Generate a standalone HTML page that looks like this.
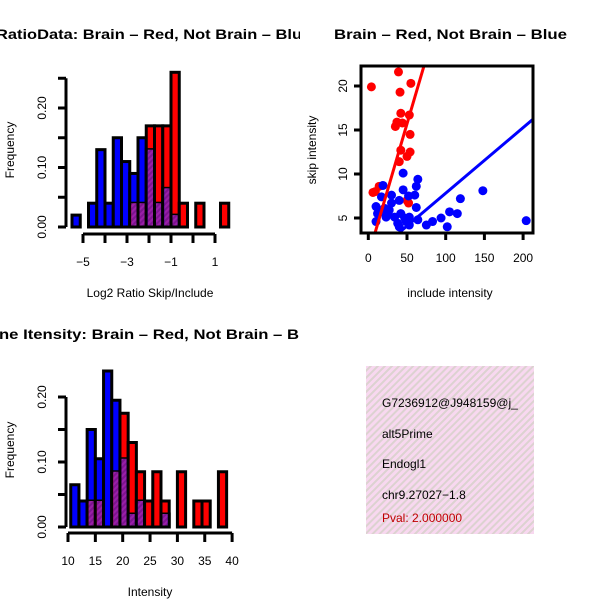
<!DOCTYPE html>
<html><head><meta charset="utf-8"><style>
body{margin:0;background:#fff}
svg{display:block;font-family:"Liberation Sans",Arial,sans-serif}
</style></head><body>
<svg id="c" width="600" height="600" xmlns="http://www.w3.org/2000/svg">
<defs>
<pattern id="ph" width="4" height="4" patternUnits="userSpaceOnUse" patternTransform="rotate(45)"><rect width="4" height="4" fill="#9a1fa8"/><rect width="2" height="4" fill="#7d1490"/></pattern>
<pattern id="bh" width="5" height="5" patternUnits="userSpaceOnUse" patternTransform="rotate(45)"><rect width="5" height="5" fill="#f8d8f0"/><rect width="2" height="5" fill="#dcd2d0"/></pattern>
<clipPath id="lc"><rect x="0" y="0" width="300" height="600"/></clipPath>
<clipPath id="sc"><rect x="361" y="66" width="172" height="167"/></clipPath>
</defs>
<g id="p1"></g>
<g id="p2"></g>
<g id="p3"></g>
<g>
<rect x="366" y="366" width="168" height="168" fill="url(#bh)"/>
<text x="382" y="407" font-size="12">G7236912@J948159@j_</text>
<text x="382" y="438" font-size="12">alt5Prime</text>
<text x="382" y="468" font-size="12">Endogl1</text>
<text x="382" y="499" font-size="12">chr9.27027−1.8</text>
<text x="382" y="522" font-size="12" fill="#c00000">Pval: 2.000000</text>
</g>
</svg>
<script>
// Panel 1 data
const ratioBinStarts=[-5.5,-5.125,-4.75,-4.375,-4,-3.625,-3.25,-2.875,-2.5,-2.125,-1.75,-1.375,-1,-0.625,-0.25,0.125,0.5,0.875,1.25];
const ratioBlue=[0.02,0,0.04,0.13,0.04,0.15,0.11,0.09,0.15,0.13,0.04,0.065,0.02,0,0,0,0,0,0];
const ratioRed=[0,0,0,0,0,0,0,0.04,0.04,0.17,0.17,0.17,0.26,0.04,0,0.04,0,0,0.04];
const ratioXTicks=[-5,-4,-3,-2,-1,0,1];
const ratioXLabels=[-5,-3,-1,1];
// Panel 3 data
const intBinStarts=[10.5,12,13.5,15,16.5,18,19.5,21,22.5,24,25.5,27,28.5,30,31.5,33,34.5,36,37.5];
const intBlue=[0.065,0.04,0.15,0.105,0.24,0.195,0.105,0.02,0.04,0,0,0.02,0,0,0,0,0,0,0];
const intRed=[0,0,0.04,0.04,0,0.085,0.175,0.13,0.085,0.04,0.085,0.04,0,0.085,0,0.04,0.04,0,0.085];
const intXTicks=[10,15,20,25,30,35,40];
const freqTicks=[0,0.05,0.1,0.15,0.2,0.25];
// Scatter data
const redX=[4,39,55,41,42,53,37,35,44,54,42,54,50,40,6,14,9,50,52];
const redY=[19.9,21.6,20.3,19.3,16.9,16.7,15.9,15.4,15.8,14.5,12.7,12.5,12,11.4,7.9,8.6,8,7,6.7];
const blueX=[45,64,62,45,19,30,17,60,52,148,119,10,21,62,30,40,12,25,42,53,105,115,94,83,75,102,204,38,49,64,10,23,34,40,53,47,17,27];
const blueY=[10.1,9.4,8.6,8.2,8.7,7.6,7.4,7.6,7.5,8.1,7.2,6.3,6.1,6.2,6.7,7,5.5,5.5,5.5,5.1,5.7,5.5,5,4.6,4.2,4,4.7,4.4,4.6,4.8,4.6,5.1,5.1,4,4.2,5,5.7,5.9];
const fitIntercept=[0.7,0.37];
const fitSlope=[0.3,0.0745];
const scXTicks=[0,50,100,150,200];
const scYTicks=[5,10,15,20];

const NS="http://www.w3.org/2000/svg";
function mk(parent,tag,attrs,txt){const e=document.createElementNS(NS,tag);for(const k in attrs)e.setAttribute(k,attrs[k]);if(txt!==undefined)e.textContent=txt;parent.appendChild(e);return e;}

function hist(g,starts,w,blue,red,sx,sy,baseY){
  for(let i=0;i<starts.length;i++){
    const x0=sx(starts[i]),x1=sx(starts[i]+w);
    [[blue[i],'#0000ff'],[red[i],'#ff0000']].sort((a,b)=>b[0]-a[0]).forEach(([v,c])=>{
      if(v<=0)return;
      const r=mk(g,'rect',{x:x0,y:sy(v),width:x1-x0,height:baseY-sy(v),fill:c,stroke:'#000','stroke-width':3});
      
      
    });
    const m=Math.min(blue[i],red[i]);
    if(m>0){
      const r=mk(g,'rect',{x:x0+1.5,y:sy(m),width:x1-x0-3,height:baseY-sy(m)-1.5,fill:'url(#ph)'});
      
      
    }
  }
}
function yaxisFreq(g,sy,ax,cy){
  mk(g,'line',{x1:ax,x2:ax,y1:sy(0),y2:sy(freqTicks[freqTicks.length-1]),stroke:'#000','stroke-width':3});
  freqTicks.forEach(t=>{
    if(t>0.21&&sy===undefined)return;
  });
}
function drawFreqAxis(g,sy,ax,maxT,cy){
  const ts=freqTicks.filter(t=>t<=maxT+1e-9);
  const l=mk(g,'line',{x1:ax,x2:ax,y1:sy(0),y2:sy(ts[ts.length-1]),stroke:'#000','stroke-width':3});
  
  
  ts.forEach(t=>{
    mk(g,'line',{x1:ax-8,x2:ax,y1:sy(t),y2:sy(t),stroke:'#000','stroke-width':3});
    if(Math.round(t*100)%10===0){
      const tx=mk(g,'text',{x:0,y:0,'font-size':12,'text-anchor':'middle',transform:`translate(${ax-20},${sy(t)}) rotate(-90)`},t.toFixed(2));
      
      
    }
  });
  const yl=mk(g,'text',{x:0,y:0,'font-size':12,'text-anchor':'middle',transform:`translate(14,${cy}) rotate(-90)`},'Frequency');
  
  
}

// Panel 1
(function(){
  const g=document.getElementById('p1');g.setAttribute('clip-path','url(#lc)');
  const sx=v=>83+(v+5)*22, sy=v=>227-v*595;
  hist(g,ratioBinStarts,0.375,ratioBlue,ratioRed,sx,sy,227);
  drawFreqAxis(g,sy,66,0.25,150);
  const ax=mk(g,'line',{x1:sx(ratioXTicks[0]),x2:sx(ratioXTicks[ratioXTicks.length-1]),y1:234,y2:234,stroke:'#000','stroke-width':3});
  
  
  ratioXTicks.forEach(t=>mk(g,'line',{x1:sx(t),x2:sx(t),y1:234,y2:243,stroke:'#000','stroke-width':3}));
  ratioXLabels.forEach(t=>{const e=mk(g,'text',{x:sx(t),y:266,'font-size':12,'text-anchor':'middle'},(t<0?'−':'')+Math.abs(t));
    
    });
  const xl=mk(g,'text',{x:150,y:297,'font-size':12,'text-anchor':'middle'},'Log2 Ratio Skip/Include');
  
  
  const t=mk(g,'text',{x:-4,y:39,'font-size':14,'font-weight':'bold',textLength:306,lengthAdjust:'spacingAndGlyphs'},'RatioData: Brain – Red, Not Brain – Blu');
  
  
})();

// Panel 3
(function(){
  const g=document.getElementById('p3');g.setAttribute('clip-path','url(#lc)');
  const sx=v=>68+(v-10)*5.47, sy=v=>527-v*650;
  hist(g,intBinStarts,1.5,intBlue,intRed,sx,sy,527);
  drawFreqAxis(g,sy,66,0.2,450);
  const ax=mk(g,'line',{x1:sx(10),x2:sx(40),y1:533,y2:533,stroke:'#000','stroke-width':3});
  
  
  intXTicks.forEach(t=>{mk(g,'line',{x1:sx(t),x2:sx(t),y1:533,y2:542,stroke:'#000','stroke-width':3});
    const e=mk(g,'text',{x:sx(t),y:565,'font-size':12,'text-anchor':'middle'},t);
    
    });
  const xl=mk(g,'text',{x:150,y:596,'font-size':12,'text-anchor':'middle'},'Intensity');
  
  
  const t=mk(g,'text',{x:-1,y:339,'font-size':14,'font-weight':'bold',textLength:300,lengthAdjust:'spacingAndGlyphs'},'ne Itensity: Brain – Red, Not Brain – B');
  
  
})();

// Scatter
(function(){
  const g=document.getElementById('p2');
  const sx=v=>368.3+v*0.774, sy=v=>218-(v-5)*8.8;
  const pg=mk(g,'g',{'clip-path':'url(#sc)'});
  redX.forEach((x,i)=>{const c=mk(pg,'circle',{cx:sx(x),cy:sy(redY[i]),r:4.5,fill:'#ff0000'});
    
    });
  blueX.forEach((x,i)=>{const c=mk(pg,'circle',{cx:sx(x),cy:sy(blueY[i]),r:4.5,fill:'#0000ff'});
    
    });
  ['#ff0000','#0000ff'].forEach((col,k)=>{
    const a=fitIntercept[k],b=fitSlope[k];
    const l=mk(pg,'line',{x1:sx(-20),y1:sy(a+b*-20),x2:sx(250),y2:sy(a+b*250),stroke:col,'stroke-width':3});
    
    
  });
  const box=mk(g,'rect',{x:361,y:66,width:172,height:167,fill:'none',stroke:'#000','stroke-width':3});
  
  
  scXTicks.forEach(t=>{mk(g,'line',{x1:sx(t),x2:sx(t),y1:233,y2:240,stroke:'#000','stroke-width':3});
    const e=mk(g,'text',{x:sx(t),y:262,'font-size':12,'text-anchor':'middle'},t);
    
    });
  scYTicks.forEach(t=>{mk(g,'line',{x1:354,x2:361,y1:sy(t),y2:sy(t),stroke:'#000','stroke-width':3});
    const e=mk(g,'text',{x:0,y:0,'font-size':12,'text-anchor':'middle',transform:`translate(347,${sy(t)}) rotate(-90)`},t);
    
    });
  const xl=mk(g,'text',{x:450,y:297,'font-size':12,'text-anchor':'middle'},'include intensity');
  
  
  const yl=mk(g,'text',{x:0,y:0,'font-size':12,'text-anchor':'middle',transform:'translate(316,150) rotate(-90)'},'skip intensity');
  
  
  const t=mk(g,'text',{x:334,y:39,'font-size':14,'font-weight':'bold',textLength:233,lengthAdjust:'spacingAndGlyphs'},'Brain – Red, Not Brain – Blue');
  
  
})();
</script>
</body></html>
